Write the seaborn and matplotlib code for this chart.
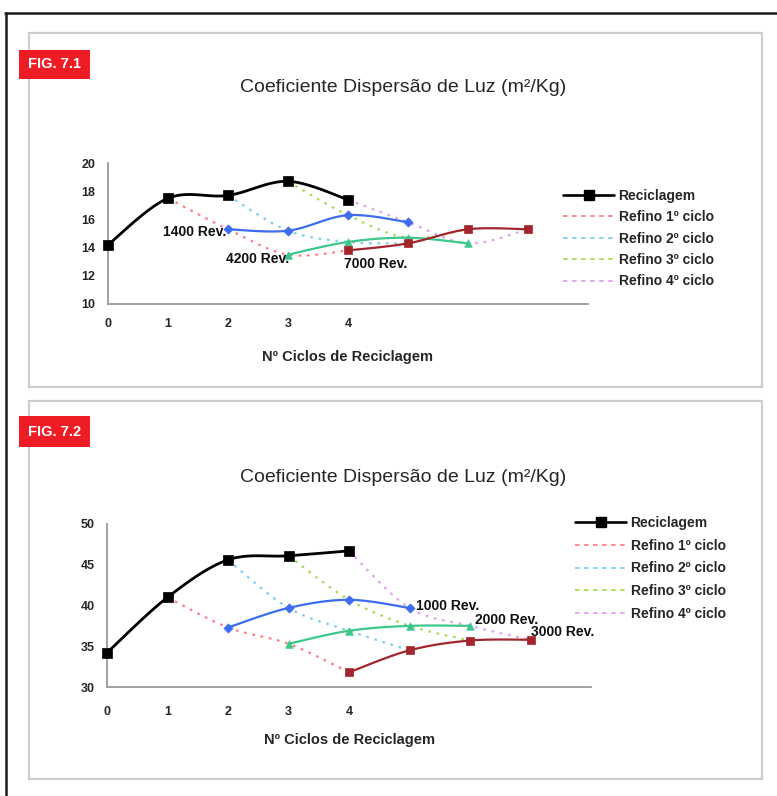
import numpy as np
import pandas as pd
import matplotlib
matplotlib.use("Agg")
import matplotlib.pyplot as plt
import seaborn as sns
from matplotlib.lines import Line2D
from matplotlib.patches import Rectangle

# ---------------- data ----------------
x_ticks = [0, 1, 2, 3, 4, 5, 6, 7, 8]
x_tick_labels = ["0", "1", "2", "3", "4", "", "", "", ""]

# FIG 7.1
rec_x = [0, 1, 2, 3, 4]
rec_71 = [14.2, 17.5, 17.7, 18.7, 17.4]
rev1400_x = [2, 3, 4, 5]
rev1400 = [15.3, 15.2, 16.3, 15.8]
rev4200_x = [3, 4, 5, 6]
rev4200 = [13.5, 14.4, 14.7, 14.3]
rev7000_x = [4, 5, 6, 7]
rev7000 = [13.8, 14.3, 15.3, 15.3]
ref1_x = [1, 2, 3, 4]
ref2_x = [2, 3, 4, 5]
ref3_x = [3, 4, 5, 6]
ref4_x = [4, 5, 6, 7]
ref1_71 = [17.5, 15.3, 13.5, 13.8]
ref2_71 = [17.7, 15.2, 14.4, 14.3]
ref3_71 = [18.7, 16.3, 14.7, 15.3]
ref4_71 = [17.4, 15.8, 14.3, 15.3]

# FIG 7.2
rec_72 = [34.2, 41.0, 45.6, 46.1, 46.7]
rev1000_x = [2, 3, 4, 5]
rev1000 = [37.3, 39.7, 40.7, 39.7]
rev2000_x = [3, 4, 5, 6]
rev2000 = [35.3, 36.9, 37.5, 37.5]
rev3000_x = [4, 5, 6, 7]
rev3000 = [31.8, 34.5, 35.7, 35.8]
ref1_72 = [41.0, 37.3, 35.3, 31.8]
ref2_72 = [45.6, 39.7, 36.9, 34.5]
ref3_72 = [46.1, 40.7, 37.5, 35.7]
ref4_72 = [46.7, 39.7, 37.5, 35.8]

legend_labels = ["Reciclagem", "Refino 1º ciclo", "Refino 2º ciclo",
                 "Refino 3º ciclo", "Refino 4º ciclo"]
title_text = "Coeficiente Dispersão de Luz (m²/Kg)"
xlabel_text = "Nº Ciclos de Reciclagem"

# ---------------- style ----------------
sns.set_style("white")
plt.rcParams["font.family"] = ["Liberation Sans", "DejaVu Sans"]

W, H = 777, 796
fig = plt.figure(figsize=(W / 100, H / 100), dpi=100)
fig.patch.set_facecolor("white")


def fx(px):
    return px / W


def fy(py):
    return 1 - py / H


C_REF = ["#ff7f86", "#7fd0f0", "#a8dc5a", "#e3a2ee"]
C_BLUE = "#3d6cf0"
C_TEAL = "#3cc88c"
C_DRED = "#a3262c"


def smooth(xs, ys, n=24):
    xs = np.asarray(xs, float)
    ys = np.asarray(ys, float)
    P = np.column_stack([xs, ys])
    P = np.vstack([P[0], P, P[-1]])
    out = []
    for i in range(1, len(P) - 2):
        p0, p1, p2, p3 = P[i - 1], P[i], P[i + 1], P[i + 2]
        t = np.linspace(0, 1, n, endpoint=(i == len(P) - 3))[:, None]
        c1 = p1 + (p2 - p0) / 6.0
        c2 = p2 - (p3 - p1) / 6.0
        pts = ((1 - t) ** 3) * p1 + 3 * ((1 - t) ** 2) * t * c1 + 3 * (1 - t) * t ** 2 * c2 + t ** 3 * p2
        out.append(pts)
    out = np.vstack(out)
    return out[:, 0], out[:, 1]


def curve(ax, xs, ys, color, lw, ls="-", z=2):
    sx, sy = smooth(xs, ys)
    df = pd.DataFrame({"x": sx, "y": sy})
    sns.lineplot(data=df, x="x", y="y", ax=ax, color=color, linewidth=lw,
                 linestyle=ls, sort=False, estimator=None, legend=False, zorder=z,
                 clip_on=False)


def marks(ax, xs, ys, color, marker, s, z=4):
    sns.scatterplot(x=xs, y=ys, ax=ax, color=color, marker=marker, s=s,
                    edgecolor=color, linewidth=0.5, legend=False, zorder=z,
                    clip_on=False)


DOT = (0, (1.2, 2.6))

# outer frame
fig.add_artist(Line2D([fx(5), 1.0], [fy(13), fy(13)], color="#1a1a1a", lw=1.8))
fig.add_artist(Line2D([fx(6), fx(6)], [fy(13), 0.0], color="#1a1a1a", lw=1.8))

# panel boxes
for top, bot in [(33, 387), (401, 779)]:
    fig.add_artist(Rectangle((fx(29), fy(bot)), fx(762) - fx(29), fy(top) - fy(bot),
                             transform=fig.transFigure, fill=False,
                             ec="#cdcdcd", lw=1.6))


def fig_label(text, y0, y1):
    fig.add_artist(Rectangle((fx(19), fy(y1)), fx(90) - fx(19), fy(y0) - fy(y1),
                             transform=fig.transFigure, fc="#ee1c25", ec="none"))
    fig.text(fx(54.5), fy((y0 + y1) / 2), text, color="white", fontsize=10.5,
             fontweight="bold", ha="center", va="center")


def panel(ax_box, ylim, yticks, rec, refs, revs, rev_labels, title_y, xlab_y,
          xtick_pad, leg_anchor, leg_spacing):
    l, r, t, b = ax_box
    ax = fig.add_axes([fx(l), fy(b), fx(r) - fx(l), fy(t) - fy(b)])
    ax.set_facecolor("none")
    # refino dotted curves
    for (xs, ys), c in zip(refs, C_REF):
        curve(ax, xs, ys, c, 1.6, DOT, z=2)
    # rev curves
    for (xs, ys), c, mk, s in zip(revs, [C_BLUE, C_TEAL, C_DRED], ["D", "^", "s"], [22, 30, 38]):
        curve(ax, xs, ys, c, 1.6, "-", z=3)
        marks(ax, xs, ys, c, mk, s, z=4)
    # reciclagem
    curve(ax, rec_x, rec, "black", 2.0, "-", z=5)
    marks(ax, rec_x, rec, "black", "s", 48, z=6)

    ax.set_xlim(0, 8)
    ax.set_ylim(*ylim)
    ax.set_xticks(x_ticks)
    ax.set_xticklabels(x_tick_labels)
    ax.set_yticks(yticks)
    ax.set_yticklabels([str(v) for v in yticks])
    for s in ["top", "right"]:
        ax.spines[s].set_visible(False)
    for s in ["left", "bottom"]:
        ax.spines[s].set_color("#9a9a9a")
        ax.spines[s].set_linewidth(1.3)
    ax.tick_params(axis="both", direction="inout", length=6, width=1.1, color="#9a9a9a",
                   labelsize=9)
    ax.tick_params(axis="x", pad=xtick_pad)
    ax.tick_params(axis="y", pad=6)
    for lab in ax.get_xticklabels() + ax.get_yticklabels():
        lab.set_fontweight("bold")
    ax.set_xlabel("")
    ax.set_ylabel("")

    fig.text(fx((l + r) / 2), fy(xlab_y), xlabel_text, fontsize=10.5, fontweight="bold",
             ha="center", va="center")
    fig.text(fx(403), fy(title_y), title_text, fontsize=14, ha="center", va="center")

    for txt, (xs, ys), which, off, ha in rev_labels:
        ax.annotate(txt, xy=(xs[which], ys[which]), xytext=off, textcoords="offset points",
                    ha=ha, va="center", fontsize=10, fontweight="bold", color="#111111",
                    zorder=7)

    handles = [Line2D([], [], color="black", lw=1.9, marker="s", markersize=6.5)]
    handles += [Line2D([], [], color=c, lw=1.3, linestyle=(0, (2.5, 2.5))) for c in C_REF]
    fig.legend(handles, legend_labels, loc="upper left",
               bbox_to_anchor=(fx(leg_anchor[0]), fy(leg_anchor[1])),
               frameon=False, fontsize=10, handlelength=3.7, handletextpad=0.3,
               labelspacing=leg_spacing, borderpad=0, borderaxespad=0,
               prop={"weight": "bold", "size": 10})
    return ax


fig_label("FIG. 7.1", 50, 79)
fig_label("FIG. 7.2", 416, 447)

panel((108, 588, 163, 304), (10, 20), [10, 12, 14, 16, 18, 20], rec_71,
      [(ref1_x, ref1_71), (ref2_x, ref2_71), (ref3_x, ref3_71), (ref4_x, ref4_71)],
      [(rev1400_x, rev1400), (rev4200_x, rev4200), (rev7000_x, rev7000)],
      [("1400 Rev.", (rev1400_x, rev1400), 0, (-1, -2), "right"),
       ("4200 Rev.", (rev4200_x, rev4200), 0, (1, -3), "right"),
       ("7000 Rev.", (rev7000_x, rev7000), 0, (-3, -10), "left")],
      88, 357, 7, (563, 189), 0.53)

panel((107, 591, 524, 687), (30, 50), [30, 35, 40, 45, 50], rec_72,
      [(ref1_x, ref1_72), (ref2_x, ref2_72), (ref3_x, ref3_72), (ref4_x, ref4_72)],
      [(rev1000_x, rev1000), (rev2000_x, rev2000), (rev3000_x, rev3000)],
      [("1000 Rev.", (rev1000_x, rev1000), 3, (5, 1.5), "left"),
       ("2000 Rev.", (rev2000_x, rev2000), 3, (3.5, 4), "left"),
       ("3000 Rev.", (rev3000_x, rev3000), 3, (0.5, 5.5), "left")],
      477, 740, 11, (575, 516), 0.63)

fig.savefig("out.png", dpi=100, facecolor="white")
